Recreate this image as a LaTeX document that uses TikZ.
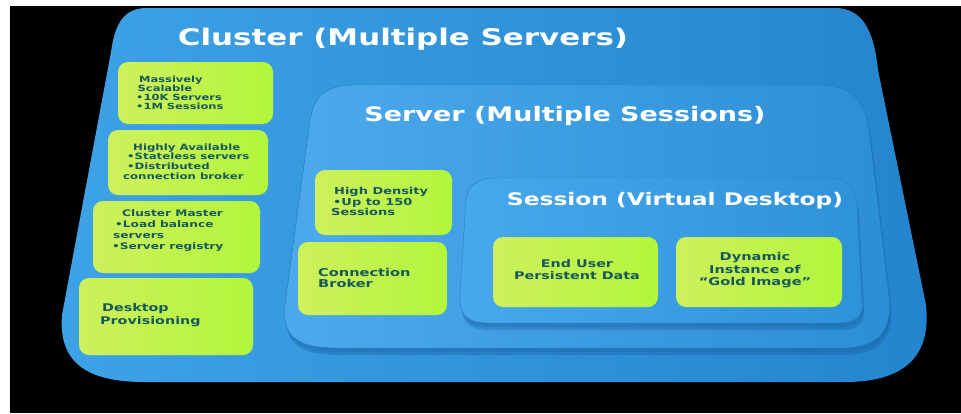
\documentclass[tikz,border=0pt]{standalone}
\usepackage{fontspec}
\setmainfont{DejaVu Sans}[FakeStretch=1.35]
\definecolor{cluL}{RGB}{62,162,230}
\definecolor{cluR}{RGB}{36,133,206}
\definecolor{srvL}{RGB}{76,170,236}
\definecolor{srvR}{RGB}{44,142,214}
\definecolor{sesL}{RGB}{72,168,236}
\definecolor{sesR}{RGB}{46,146,218}
\definecolor{shadowblue}{RGB}{22,95,160}
\definecolor{ygL}{RGB}{206,240,92}
\definecolor{ygR}{RGB}{178,246,60}
\definecolor{tealtext}{RGB}{22,88,92}
\begin{document}
\begin{tikzpicture}[x=1pt,y=-1pt,
  clushape/.style={insert path={(147,8) -- (835,8) .. controls (862,8) and (874,30) .. (878,70)
     -- (926,305) .. controls (932,360) and (900,382) .. (845,382) -- (145,382)
     .. controls (90,382) and (58,365) .. (62,315) -- (111,52) .. controls (115,22) and (125,8) .. (147,8) -- cycle}},
  srvshape/.style={insert path={(355,85) -- (820,85) .. controls (852,85) and (864,100) .. (869,130)
     -- (889,295) .. controls (893,335) and (875,348) .. (840,348) -- (340,348)
     .. controls (300,348) and (282,340) .. (285,305) -- (310,120) .. controls (314,95) and (327,85) .. (355,85) -- cycle}},
  sesshape/.style={insert path={(495,178) -- (825,178) .. controls (848,178) and (855,188) .. (857,205)
     -- (862,300) .. controls (864,318) and (855,323) .. (835,323) -- (490,323)
     .. controls (466,323) and (459,315) .. (460,295) -- (466,200) .. controls (468,185) and (478,178) .. (495,178) -- cycle}},
  ybox/.style={rounded corners=10pt, left color=ygL, right color=ygR, draw=none, inner sep=0pt},
  ytext/.style={text=tealtext, inner sep=0pt, font=\bfseries},
  title/.style={text=white, inner sep=0pt, anchor=base, font=\bfseries}]
\useasboundingbox (0,0) rectangle (961,413);
\fill[white] (0,0) rectangle (961,413);
\fill[black] (10,6) rectangle (961,413);
% cluster
\path[left color=cluL, right color=cluR] [clushape];
% server shadow and body
\path[fill=shadowblue, opacity=0.35, shift={(2,7)}] [srvshape];
\path[fill=shadowblue, opacity=0.25, shift={(1,4)}] [srvshape];
\path[left color=srvL, right color=srvR, draw=cluR!90!black, line width=0.4pt] [srvshape];
% session shadow and body
\path[fill=shadowblue, opacity=0.35, shift={(2,7)}] [sesshape];
\path[fill=shadowblue, opacity=0.25, shift={(1,4)}] [sesshape];
\path[left color=sesL, right color=sesR, draw=srvR!90!black, line width=0.4pt] [sesshape];
% titles
\node[title, font=\bfseries\fontsize{22.9}{24}\selectfont] (tclu) at (403,45) {Cluster (Multiple Servers)};
\node[title, font=\bfseries\fontsize{20}{22}\selectfont] (tsrv) at (565,121) {Server (Multiple Sessions)};
\node[title, font=\bfseries\fontsize{17.3}{19}\selectfont] (tses) at (675,205) {Session (Virtual Desktop)};
% yellow boxes
\node[ybox, minimum width=155pt, minimum height=62pt] (b1) at (195.5,93) {};
\node[ybox, minimum width=160pt, minimum height=65pt] (b2) at (188,162.5) {};
\node[ybox, minimum width=167pt, minimum height=72pt] (b3) at (176.5,237) {};
\node[ybox, minimum width=174pt, minimum height=77pt] (b4) at (166,316.5) {};
\node[ybox, minimum width=137pt, minimum height=65pt] (hd) at (383.5,202.5) {};
\node[ybox, minimum width=149pt, minimum height=73pt] (cb) at (372.5,278.5) {};
\node[ybox, minimum width=165pt, minimum height=70pt] (eu) at (575.5,272) {};
\node[ybox, minimum width=166pt, minimum height=70pt] (dy) at (759,272) {};
% texts
\node[ytext, align=left, anchor=west, font=\bfseries\fontsize{8.5}{9}\selectfont] (t1) at (136,92.5)
  {\hspace*{3pt}Massively\\\hspace*{1.5pt}Scalable\\•10K Servers\\•1M Sessions};
\node[ytext, align=left, anchor=west, font=\bfseries\fontsize{8.7}{9.7}\selectfont] (t2) at (123,161.5)
  {\hspace*{10pt}Highly Available\\\hspace*{4pt}•Stateless servers\\\hspace*{4pt}•Distributed\\connection broker};
\node[ytext, align=left, anchor=west, font=\bfseries\fontsize{9}{11}\selectfont] (t3) at (112,230.75)
  {\hspace*{10pt}Cluster Master\\\hspace*{3pt}•Load balance\\\hspace*{1pt}servers\\•Server registry};
\node[ytext, align=left, anchor=west, font=\bfseries\fontsize{10.6}{13}\selectfont] (t4) at (100,315.5)
  {\hspace*{2pt}Desktop\\Provisioning};
\node[ytext, align=left, anchor=west, font=\bfseries\fontsize{9.6}{10.5}\selectfont] (thd) at (331,201.5)
  {\hspace*{3pt}High Density\\\hspace*{2pt}•Up to 150\\Sessions};
\node[ytext, align=left, anchor=west, font=\bfseries\fontsize{10.8}{11}\selectfont] (tcb) at (318,277.5)
  {Connection\\Broker};
\node[ytext, align=center, font=\bfseries\fontsize{10.6}{11.5}\selectfont] (teu) at (577,269.5)
  {End User\\Persistent Data};
\node[ytext, align=center, font=\bfseries\fontsize{10.8}{12.5}\selectfont] (tdy) at (755,270.5)
  {Dynamic\\Instance of\\“Gold Image”};
\end{tikzpicture}
\end{document}
